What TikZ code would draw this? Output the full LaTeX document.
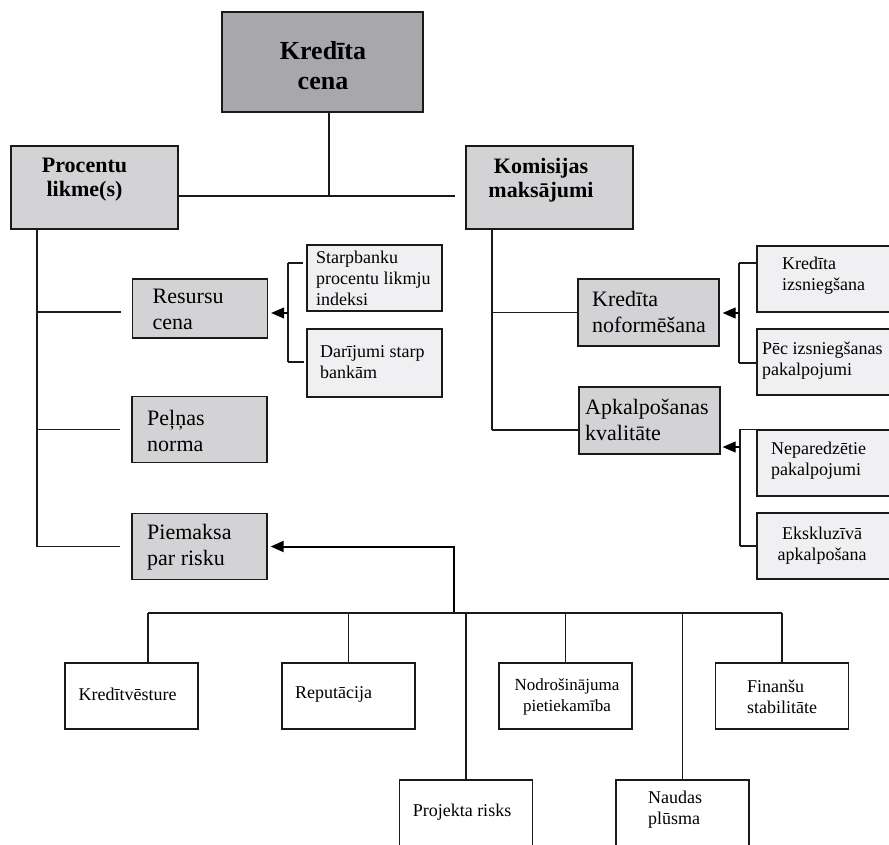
\documentclass[tikz,border=0pt]{standalone}
\usepackage{fontspec}
\setmainfont{Liberation Serif}
\usetikzlibrary{arrows.meta,calc}
\definecolor{cdark}{HTML}{A8A8AC}
\definecolor{cmid}{HTML}{D3D3D6}
\definecolor{clight}{HTML}{F0F0F2}
\definecolor{cline}{HTML}{1A1A1A}
\begin{document}
\begin{tikzpicture}[x=1pt,y=-1pt,
  box/.style={draw=cline, line width=1.3pt, rectangle, inner sep=0pt},
  topbox/.style={box, fill=cdark, minimum width=201pt, minimum height=100pt},
  headbox/.style={box, fill=cmid, minimum width=167pt, minimum height=83pt},
  midbox/.style={box, fill=cmid, minimum width=135pt, minimum height=66pt},
  ltbox/.style={box, fill=clight, minimum width=135pt, minimum height=66pt},
  wbox/.style={box, fill=white, minimum width=133pt, minimum height=66pt},
  txt/.style={inner sep=0pt, align=left, text=black},
  ftop/.style={font=\fontsize{26}{30}\selectfont\bfseries},
  fhead/.style={font=\fontsize{22}{24}\selectfont\bfseries},
  fmid/.style={font=\fontsize{22}{26}\selectfont},
  fsmall/.style={font=\fontsize{18}{21}\selectfont},
  fbot/.style={font=\fontsize{18}{21}\selectfont},
  ln/.style={draw=cline, line width=1.1pt},
  arr/.style={draw=black, line width=1.1pt, -{Triangle[length=13pt,width=11pt]}},
  bigarr/.style={draw=black, line width=2pt, -{Triangle[length=13pt,width=11pt]}}
]
\useasboundingbox (0,0) rectangle (889,844);
\clip (0,0) rectangle (889,844);

% ---------- boxes ----------
\node[topbox] (top) at (322.5,62) {};
\node[headbox] (proc) at (94.5,187.5) {};
\node[headbox] (kom) at (549.5,187.5) {};

\node[midbox, minimum height=59pt] (res) at (200,308.5) {};
\node[midbox] (pel) at (199.5,429.5) {};
\node[midbox] (pie) at (199.5,546.5) {};

\node[ltbox] (star) at (374.5,278) {};
\node[ltbox, minimum height=68pt] (dar) at (374.5,363) {};

\node[midbox, minimum width=141pt, minimum height=67pt] (nof) at (648.5,312.5) {};
\node[midbox, minimum width=141pt, minimum height=67pt] (apk) at (649.5,420.5) {};

\node[ltbox, minimum width=170pt] (izs) at (842,279) {};
\node[ltbox, minimum width=170pt] (pec) at (842,362) {};
\node[ltbox, minimum width=170pt] (nep) at (842,463) {};
\node[ltbox, minimum width=170pt] (eks) at (842,546) {};

\node[wbox] (kv) at (131.5,696) {};
\node[wbox] (rep) at (348.5,696) {};
\node[wbox] (nod) at (565.5,696) {};
\node[wbox] (fin) at (782,696) {};
\node[wbox, minimum height=100pt] (proj) at (466,830) {};
\node[wbox, minimum height=100pt] (nau) at (682.5,830) {};

% ---------- texts ----------
\node[txt, ftop, align=center] (topT) at (323,66) {Kredīta\\cena};
\node[txt, fhead, align=center] (procT) at (84.5,180) {Procentu\\likme(s)};
\node[txt, fhead, align=center] (komT) at (541,180) {Komisijas\\maksājumi};

\node[txt, fmid, anchor=west] (resT) at (152.5,309) {Resursu\\cena};
\node[txt, fmid, anchor=west] (pelT) at (147,431) {Peļņas\\norma};
\node[txt, fmid, anchor=west] (pieT) at (147,547) {Piemaksa\\par risku};
\node[txt, fmid, anchor=west] (nofT) at (592,312) {Kredīta\\noformēšana};
\node[txt, fmid, anchor=west] (apkT) at (585,420) {Apkalpošanas\\kvalitāte};

\node[txt, fsmall, anchor=west] (starT) at (316,278) {Starpbanku\\procentu likmju\\indeksi};
\node[txt, fsmall, anchor=west] (darT) at (320,362) {Darījumi starp\\bankām};
\node[txt, fsmall, anchor=west] (izsT) at (782,276) {Kredīta\\izsniegšana};
\node[txt, fsmall, anchor=west] (pecT) at (762,361) {Pēc izsniegšanas\\pakalpojumi};
\node[txt, fsmall, anchor=west] (nepT) at (771,461) {Neparedzētie\\pakalpojumi};
\node[txt, fsmall, align=center] (eksT) at (822,546) {Ekskluzīvā\\apkalpošana};

\node[txt, fbot] (kvT) at (127.5,694) {Kredītvēsture};
\node[txt, fbot, anchor=west] (repT) at (295,694) {Reputācija};
\node[txt, fbot, align=center, font=\fontsize{17}{21}\selectfont] (nodT) at (567,697) {Nodrošinājuma\\pietiekamība};
\node[txt, fbot, anchor=west] (finT) at (747,697) {Finanšu\\stabilitāte};
\node[txt, fbot] (projT) at (462,812) {Projekta risks};
\node[txt, fbot, anchor=west] (nauT) at (648,810) {Naudas\\plūsma};

% ---------- helper coordinates ----------
\coordinate (j0) at (329,196);
\coordinate (lx) at (37,0);
\coordinate (kx) at (492,0);
\coordinate (rb) at (288,0);
\coordinate (kb) at (739,0);
\coordinate (ab) at (740,0);
\coordinate (pj) at (454,613);
\coordinate (kvx) at (148,0);

% ---------- connectors ----------
\draw[ln] (top.south -| j0) -- (j0);
\draw[ln, shorten >=10pt] (proc.east |- j0) -- (kom.west |- j0);

% left trunk
\draw[ln] (proc.south -| lx) -- (lx |- pie.west);
\draw[ln, shorten >=11pt] (lx |- 0,312) -- (res.west |- 0,312);
\draw[ln, shorten >=11pt] (lx |- pel.west) -- (pel.west);
\draw[ln, shorten >=11pt] (lx |- pie.west) -- (pie.west);

% resursu bracket
\draw[ln, shorten >=3pt] (rb |- 0,263) -- (star.west |- 0,263);
\draw[ln] (rb |- 0,263) -- (rb |- 0,362);
\draw[ln, shorten >=2pt] (rb |- 0,362) -- (dar.west |- 0,362);
\draw[arr, shorten >=3pt] (rb |- 0,313) -- (res.east |- 0,313);

% komisijas trunk
\draw[ln] (kom.south -| kx) -- (kx |- 0,430);
\draw[ln] (kx |- nof.west) -- (nof.west);
\draw[ln] (kx |- 0,430) -- (apk.west |- 0,430);

% right bracket 1
\draw[ln] (kb |- 0,263) -- (izs.west |- 0,263);
\draw[ln] (kb |- 0,263) -- (kb |- 0,363);
\draw[ln] (kb |- 0,363) -- (pec.west |- 0,363);
\draw[arr, shorten >=3pt] (kb |- 0,313) -- (nof.east |- 0,313);

% right bracket 2
\draw[ln] (ab |- nep.north west) -- (nep.north west);
\draw[ln] (ab |- nep.north west) -- (ab |- eks.west);
\draw[ln] (ab |- eks.west) -- (eks.west);
\draw[arr, shorten >=2pt] (ab |- 0,447) -- (apk.east |- 0,447);

% piemaksa risk tree
\draw[bigarr, shorten >=3pt] (pj) -- (pj |- pie.east) -- (pie.east);
\draw[ln] (kvx |- pj) -- (fin.north |- pj);
\draw[ln] (kvx |- pj) -- (kvx |- kv.north);
\draw[ln] (rep.north |- pj) -- (rep.north);
\draw[ln] (proj.north |- pj) -- (proj.north);
\draw[ln] (nod.north |- pj) -- (nod.north);
\draw[ln] (nau.north |- pj) -- (nau.north);
\draw[ln] (fin.north |- pj) -- (fin.north);
\end{tikzpicture}
\end{document}
